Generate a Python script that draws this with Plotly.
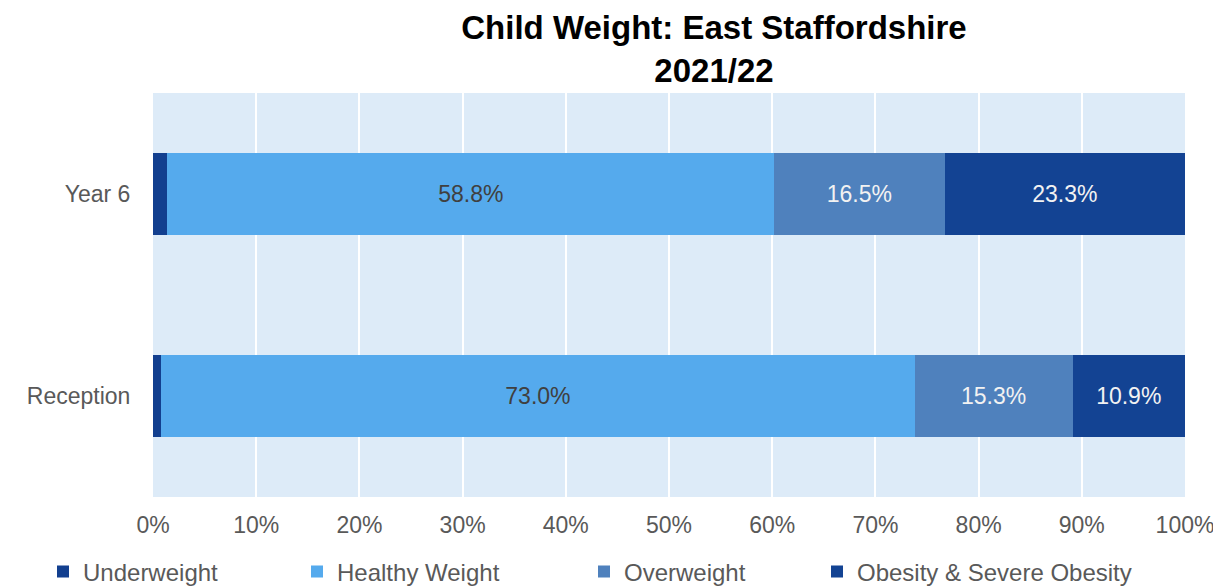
import plotly.graph_objects as go

categories = ["Reception", "Year 6"]
series_names = ["Underweight", "Healthy Weight", "Overweight", "Obesity & Severe Obesity"]
underweight = [0.008, 0.014]
healthy = [0.730, 0.588]
overweight = [0.153, 0.165]
obesity = [0.109, 0.233]
x_ticks = [0, 0.1, 0.2, 0.3, 0.4, 0.5, 0.6, 0.7, 0.8, 0.9, 1.0]
x_tick_labels = ["0%", "10%", "20%", "30%", "40%", "50%", "60%", "70%", "80%", "90%", "100%"]

colors = ["#123F8F", "#55AAED", "#4F81BD", "#134393"]
label_colors = ["#404040", "#404040", "#F2F2F2", "#F2F2F2"]
show_labels = [False, True, True, True]
FONT = "Liberation Sans, Arial, sans-serif"

# page body has an 8px margin; figure is sized so it ends at the window edge
W, H = 1213, 580
legend_names = ["legend", "legend2", "legend3", "legend4"]
legend_text_x = [75, 329, 616, 849]  # px in figure coords where legend text starts

fig = go.Figure()
for name, vals, col, lc, show, lg in zip(series_names, [underweight, healthy, overweight, obesity],
                                         colors, label_colors, show_labels, legend_names):
    fig.add_trace(go.Bar(
        y=categories, x=vals, name=name, orientation="h",
        marker=dict(color=col, line=dict(width=0)),
        text=[f"{v*100:.1f}%" for v in vals] if show else None,
        textposition="inside" if show else "none",
        insidetextanchor="middle",
        textfont=dict(family=FONT, size=23, color=lc),
        hoverinfo="x+name",
        legend=lg,
    ))

legend_common = dict(
    orientation="h", xref="container", xanchor="left",
    yref="container", y=1 - 564 / H, yanchor="middle",
    font=dict(family=FONT, size=24, color="#595959"),
    itemwidth=30, bgcolor="rgba(0,0,0,0)", borderwidth=0,
)
legends = {}
for lg, tx in zip(legend_names, legend_text_x):
    legends[lg] = dict(legend_common, x=(tx - 40) / W)

fig.update_layout(
    barmode="stack",
    bargap=0.59,
    width=W, height=H,
    margin=dict(l=145, r=36, t=85, b=91, autoexpand=False),
    paper_bgcolor="white",
    plot_bgcolor="#DDEBF8",
    font=dict(family=FONT, color="#595959"),
    title=dict(
        text="<b>Child Weight: East Staffordshire<br>2021/22</b>",
        x=706 / W, xanchor="center", xref="container",
        y=1 - 31 / H, yanchor="middle", yref="container",
        font=dict(family=FONT, size=33, color="black"),
    ),
    xaxis=dict(
        range=[0, 1], tickvals=x_ticks, ticktext=x_tick_labels,
        showgrid=True, gridcolor="white", gridwidth=2,
        zeroline=False, showline=False,
        ticks="outside", ticklen=7, tickcolor="white",
        tickfont=dict(family=FONT, size=23, color="#595959"),
    ),
    yaxis=dict(
        showgrid=False, zeroline=False, showline=False,
        ticks="outside", ticklen=17, tickcolor="white",
        tickfont=dict(family=FONT, size=23, color="#595959"),
    ),
    showlegend=True,
    **legends,
)

fig.write_html("out.html")
